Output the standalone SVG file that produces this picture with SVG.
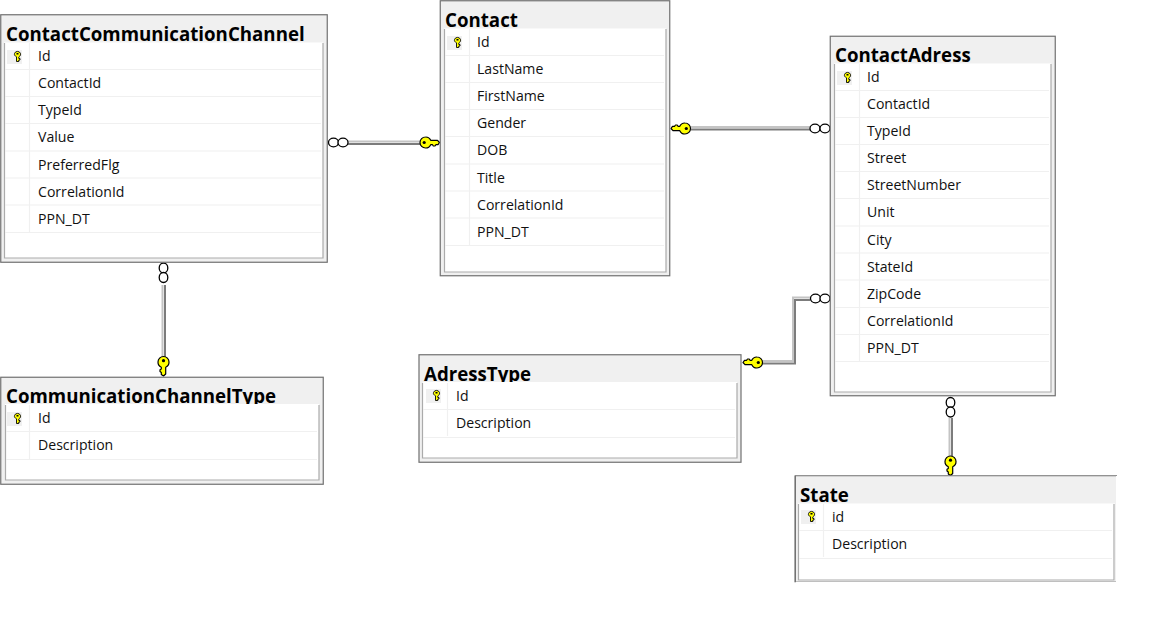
<svg xmlns="http://www.w3.org/2000/svg" xmlns:xlink="http://www.w3.org/1999/xlink" width="1154" height="638" viewBox="0 0 1154 638">
<style>
.outer{fill:#f0f0f0;stroke:#707070;stroke-width:1.2}
.body{fill:#fff}
.inner{fill:none;stroke:#ababab;stroke-width:1.2}
.sep{stroke:#f0f0f0;stroke-width:1.2;fill:none}
.title{font:bold 18.7px "Open Sans","Noto Sans",sans-serif;fill:#000}
.row{font:14.1px "Open Sans","Noto Sans",sans-serif;fill:#111}
.light{fill:none;stroke:#c4c4c4;stroke-width:2}
.dark{fill:none;stroke:#7c7c7c;stroke-width:2}
.ring{fill:#fff;stroke:#000;stroke-width:1.3}
.bigkey{fill:#ffff00;stroke:#000;stroke-width:1.2;stroke-linejoin:round}
.smallkey{fill:#ffff00;stroke:#000;stroke-width:.9}
.keybg{fill:#f0f0f0}
</style>
<defs>
<g id="bk"><path class="bigkey" d="M-5.500 0A5.500 5.500 0 0 1 0-5.500A5.500 5.500 0 0 1 5.200-2.200H12L14 0L12.500 2.200H10.500L9.500 3.500H7.800L7 2.200H5.200A5.500 5.500 0 0 1 0 5.500A5.500 5.500 0 0 1-5.500 0Z"/><circle r="1.600" cx="-1.300" fill="#000"/></g>
<g id="sk"><rect class="keybg" x="-10.500" y="-7" width="15" height="14"/><path class="smallkey" d="M-3-3.500A3.200 3.200 0 0 1 3-3.500C3.400-1.500 2-.5 1.300 0V1.500H2.500V3H1.300V4.500H-1V-.2C-2.500-1-3.400-2-3-3.500Z"/><rect x="-1" y="-4" width="2" height="1.500" fill="#000"/></g>
</defs>

<g id="connectors">
<g id="c1"><path class="light" d="M348 141.500H421"/><path class="dark" d="M348 144H421"/><ellipse class="ring" cx="333.500" cy="142.500" rx="5" ry="4.300"/><ellipse class="ring" cx="343" cy="142.500" rx="5" ry="4.300"/><use xlink:href="#bk" transform="translate(425.500 142.500)"/></g>
<g id="c2"><path class="light" d="M691 127H810"/><path class="dark" d="M691 129.500H810"/><ellipse class="ring" cx="815" cy="128.500" rx="5" ry="4.300"/><ellipse class="ring" cx="825" cy="128.500" rx="5" ry="4.300"/><use xlink:href="#bk" transform="translate(685 128.500) rotate(180)"/></g>
<g id="c3"><path class="light" d="M762 361H793V297.500H810"/><path class="dark" d="M762 363.500H795V300H810"/><ellipse class="ring" cx="815.500" cy="298.500" rx="5" ry="4.300"/><ellipse class="ring" cx="825" cy="298.500" rx="5" ry="4.300"/><use xlink:href="#bk" transform="translate(757 362.500) rotate(180)"/></g>
<g id="c4"><path class="light" d="M162.500 285V358"/><path class="dark" d="M165 285V358"/><ellipse class="ring" cx="163.500" cy="268" rx="4.300" ry="5"/><ellipse class="ring" cx="163.500" cy="277.500" rx="4.300" ry="5"/><use xlink:href="#bk" transform="translate(163.500 362) rotate(90)"/></g>
<g id="c5"><path class="light" d="M949.500 418V457"/><path class="dark" d="M952 418V457"/><ellipse class="ring" cx="950.500" cy="402.500" rx="4.300" ry="5"/><ellipse class="ring" cx="950.500" cy="412" rx="4.300" ry="5"/><use xlink:href="#bk" transform="translate(950.500 461.500) rotate(90)"/></g>
</g>

<g id="ContactCommunicationChannel">
<rect class="outer" x="0.750" y="14.750" width="326.500" height="247.500"/>
<text class="title" x="6" y="41">ContactCommunicationChannel</text>
<rect class="body" x="4" y="42.500" width="319" height="215.500"/>
<path class="inner" d="M4.500 43V258H323V43"/>
<path class="sep" d="M5 69.500H321M5 96.500H321M5 123.500H321M5 151H321M5 178H321M5 205H321M5 232.500H321M29.500 43V232"/>
<use xlink:href="#sk" x="17.500" y="57"/>
<text class="row" x="38" y="61">Id</text><text class="row" x="38" y="88">ContactId</text><text class="row" x="38" y="115">TypeId</text><text class="row" x="38" y="142">Value</text><text class="row" x="38" y="170">PreferredFlg</text><text class="row" x="38" y="197">CorrelationId</text><text class="row" x="38" y="224">PPN_DT</text>
</g>

<g id="Contact">
<rect class="outer" x="440.250" y="0.750" width="229.500" height="275"/>
<text class="title" x="445" y="27">Contact</text>
<rect class="body" x="444" y="28.500" width="222" height="243.500"/>
<path class="inner" d="M444.500 29V272H666V29"/>
<path class="sep" d="M445 55.500H664M445 82.500H664M445 109.500H664M445 136.500H664M445 164H664M445 191H664M445 218H664M445 245.500H664M469.500 29V245"/>
<use xlink:href="#sk" x="457.500" y="43"/>
<text class="row" x="477" y="47">Id</text><text class="row" x="477" y="74">LastName</text><text class="row" x="477" y="101">FirstName</text><text class="row" x="477" y="128">Gender</text><text class="row" x="477" y="155">DOB</text><text class="row" x="477" y="183">Title</text><text class="row" x="477" y="210">CorrelationId</text><text class="row" x="477" y="237">PPN_DT</text>
</g>

<g id="ContactAdress">
<rect class="outer" x="830.250" y="36.250" width="225" height="359.500"/>
<text class="title" x="835" y="62">ContactAdress</text>
<rect class="body" x="834" y="63.500" width="217" height="328.500"/>
<path class="inner" d="M834.500 64V392H1051V64"/>
<path class="sep" d="M835 90.500H1049M835 117.500H1049M835 144.500H1049M835 171.500H1049M835 198.500H1049M835 226H1049M835 253H1049M835 280H1049M835 307.500H1049M835 334.500H1049M835 361.500H1049M859.500 64V361"/>
<use xlink:href="#sk" x="847.500" y="78"/>
<text class="row" x="867" y="82">Id</text><text class="row" x="867" y="109">ContactId</text><text class="row" x="867" y="136">TypeId</text><text class="row" x="867" y="163">Street</text><text class="row" x="867" y="190">StreetNumber</text><text class="row" x="867" y="217">Unit</text><text class="row" x="867" y="245">City</text><text class="row" x="867" y="272">StateId</text><text class="row" x="867" y="299">ZipCode</text><text class="row" x="867" y="326">CorrelationId</text><text class="row" x="867" y="353">PPN_DT</text>
</g>

<g id="CommunicationChannelType">
<rect class="outer" x="0.750" y="377.250" width="322.500" height="107"/>
<text class="title" x="6" y="403">CommunicationChannelType</text>
<rect class="body" x="5" y="404" width="314" height="76"/>
<path class="inner" d="M5.500 405V480H319V405"/>
<path class="sep" d="M6 431.500H317M6 459.500H317M29.500 405V459"/>
<use xlink:href="#sk" x="17.500" y="419"/>
<text class="row" x="38" y="423">Id</text><text class="row" x="38" y="450">Description</text>
</g>

<g id="AdressType">
<rect class="outer" x="419" y="354.750" width="322" height="107.500"/>
<text class="title" x="424" y="381">AdressType</text>
<rect class="body" x="423" y="382" width="314" height="76"/>
<path class="inner" d="M422.500 383V458H737V383"/>
<path class="sep" d="M423 409.500H735M423 437.500H735M447.500 383V436"/>
<use xlink:href="#sk" x="436.500" y="396"/>
<text class="row" x="456" y="401">Id</text><text class="row" x="456" y="428">Description</text>
</g>

<g id="State">
<path class="outer" d="M1117 475.750H795.250V582H1117"/>
<rect x="1116" y="476" width="2" height="107" fill="#fff"/>
<rect x="795.500" y="581.800" width="322" height="1.500" fill="#fff"/>
<path d="M795.250 475.750V582" fill="none" stroke="#707070" stroke-width="1.200"/>
<text class="title" x="800" y="501.500">State</text>
<rect class="body" x="798" y="503.500" width="317" height="77"/>
<path class="inner" d="M798.500 504V580H1114V504"/>
<path class="sep" d="M799 530.500H1112M799 558.500H1112M823.500 504V557"/>
<use xlink:href="#sk" x="811.500" y="517"/>
<text class="row" x="832" y="522">id</text><text class="row" x="832" y="549">Description</text>
</g>
</svg>
